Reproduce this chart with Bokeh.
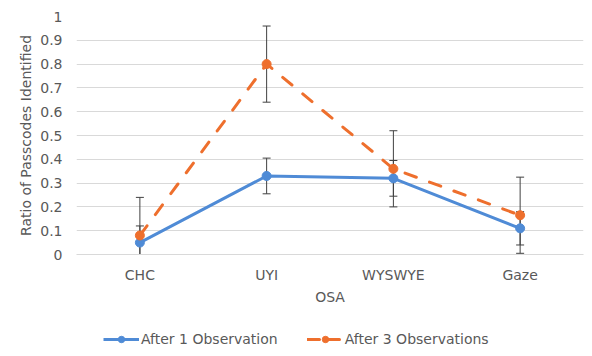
from bokeh.plotting import figure
from bokeh.layouts import column
from bokeh.models import (ColumnDataSource, Legend, LegendItem, FactorRange, Range1d,
                          FixedTicker, NumeralTickFormatter)
from bokeh.embed import file_html
from bokeh.resources import INLINE

# ---- data ----
categories = ["CHC", "UYI", "WYSWYE", "Gaze"]
after1 = [0.05, 0.33, 0.32, 0.11]
after1_err = [0.07, 0.075, 0.075, 0.07]
after3 = [0.08, 0.80, 0.36, 0.165]
after3_err = [0.16, 0.16, 0.16, 0.16]
y_ticks = [0, 0.1, 0.2, 0.3, 0.4, 0.5, 0.6, 0.7, 0.8, 0.9, 1.0]
series_labels = ["After 1 Observation", "After 3 Observations"]

BLUE = "#4F8BD6"
ORANGE = "#EE6F2D"
TEXT = "#595959"
GRID = "#D9D9D9"
ERR = "#404040"
FONT = "DejaVu Sans"

src1 = ColumnDataSource(dict(x=categories, y=after1,
                             lo=[v - e for v, e in zip(after1, after1_err)],
                             hi=[v + e for v, e in zip(after1, after1_err)]))
src3 = ColumnDataSource(dict(x=categories, y=after3,
                             lo=[v - e for v, e in zip(after3, after3_err)],
                             hi=[v + e for v, e in zip(after3, after3_err)]))

p = figure(width=592, height=320, output_backend="svg", toolbar_location=None,
           x_range=FactorRange(*categories, range_padding=0),
           y_range=Range1d(0, 1),
           min_border_left=76, min_border_right=9, min_border_top=16, min_border_bottom=66)

p.outline_line_color = None
p.background_fill_color = "white"
p.border_fill_color = "white"

# error bars
for s in (src1, src3):
    p.segment(x0="x", y0="lo", x1="x", y1="hi", source=s, line_color=ERR, line_width=1)
    p.scatter(x="x", y="hi", source=s, marker="dash", size=8, line_color=ERR, line_width=1)
    p.scatter(x="x", y="lo", source=s, marker="dash", size=8, line_color=ERR, line_width=1)

# series
p.line(x="x", y="y", source=src1, line_color=BLUE, line_width=3, line_join="round")
p.scatter(x="x", y="y", source=src1, size=9, marker="circle",
          fill_color=BLUE, line_color=BLUE)
p.line(x="x", y="y", source=src3, line_color=ORANGE, line_width=3,
       line_dash="12 14", line_cap="round")
p.scatter(x="x", y="y", source=src3, size=9, marker="circle",
          fill_color=ORANGE, line_color=ORANGE)

# axes
p.yaxis.ticker = FixedTicker(ticks=y_ticks)
p.yaxis.formatter = NumeralTickFormatter(format="0.[0]")
p.yaxis.axis_line_color = None
p.yaxis.axis_label = "Ratio of Passcodes Identified"
p.yaxis.major_label_standoff = 14
p.yaxis.axis_label_standoff = 3

p.xaxis.axis_line_color = GRID
p.xaxis.axis_label = "OSA"
p.xaxis.major_label_standoff = 12
p.xaxis.axis_label_standoff = 3

for ax in (p.xaxis, p.yaxis):
    ax.major_tick_line_color = None
    ax.minor_tick_line_color = None
    ax.major_tick_out = 0
    ax.major_tick_in = 0
    ax.minor_tick_out = 0
    ax.minor_tick_in = 0
    ax.major_label_text_font = FONT
    ax.major_label_text_font_size = "14px"
    ax.major_label_text_color = TEXT
    ax.axis_label_text_font = FONT
    ax.axis_label_text_font_size = "14px"
    ax.axis_label_text_font_style = "normal"
    ax.axis_label_text_color = TEXT

p.xgrid.grid_line_color = None
p.ygrid.grid_line_color = GRID
p.ygrid.grid_line_width = 1

# legend strip below the chart (same series, drawn off-view so only the legend shows)
lg = figure(width=592, height=36, output_backend="svg", toolbar_location=None,
            x_range=FactorRange(*categories), y_range=Range1d(10, 11),
            x_axis_type=None, y_axis_type=None,
            min_border_left=0, min_border_right=0, min_border_top=0, min_border_bottom=0)
lg.outline_line_color = None
lg.xgrid.grid_line_color = None
lg.ygrid.grid_line_color = None
r1 = lg.line(x="x", y="y", source=src1, line_color=BLUE, line_width=3)
s1 = lg.scatter(x="x", y="y", source=src1, size=6, fill_color=BLUE, line_color=BLUE)
r3 = lg.line(x="x", y="y", source=src3, line_color=ORANGE, line_width=3,
             line_dash="12 8", line_cap="round")
s3 = lg.scatter(x="x", y="y", source=src3, size=6, fill_color=ORANGE, line_color=ORANGE)

legend = Legend(items=[LegendItem(label=series_labels[0], renderers=[r1, s1]),
                       LegendItem(label=series_labels[1], renderers=[r3, s3])],
                location=(27, 9), orientation="horizontal",
                glyph_width=36, glyph_height=16, label_height=16, label_standoff=2,
                spacing=29, padding=0, margin=0,
                label_text_font=FONT, label_text_font_size="14px", label_text_color=TEXT,
                border_line_color=None, background_fill_alpha=0)
lg.add_layout(legend)

layout = column(p, lg, spacing=0)
open("out.html", "w").write(file_html(layout, INLINE))
